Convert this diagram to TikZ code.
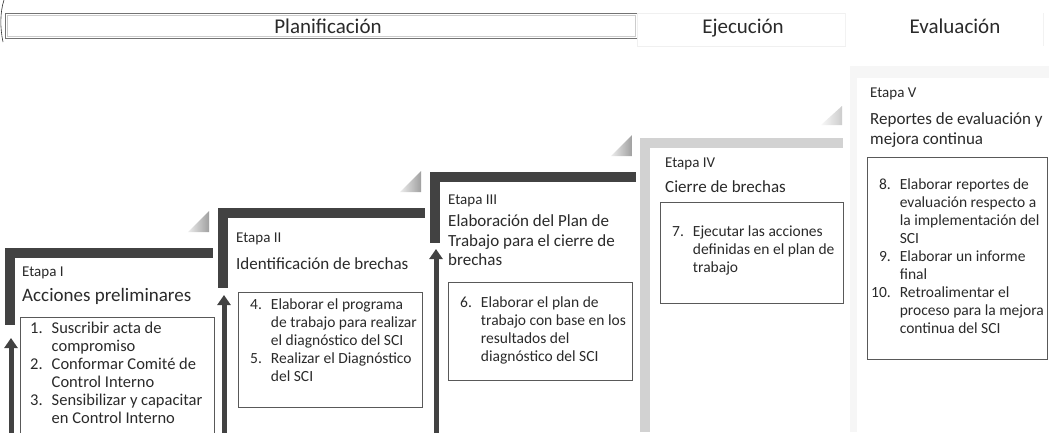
\documentclass[tikz,border=0pt]{standalone}
\usepackage{fontspec}
\setmainfont{Carlito}
\usepackage{xcolor}
\usetikzlibrary{arrows.meta}
\definecolor{barraOscura}{RGB}{66,66,66}
\definecolor{barraClara}{RGB}{210,210,210}
\definecolor{barraTenue}{RGB}{246,246,246}
\definecolor{textoGris}{RGB}{42,42,42}

\newcommand{\lineas}[1]{\begin{tabular}{@{}l@{}}#1\end{tabular}}

\tikzset{
  etapa/.style={anchor=north west, inner sep=0pt, text=textoGris,
                font=\fontsize{15}{18}\selectfont},
  titulo/.style={anchor=north west, inner sep=0pt, text=textoGris,
                 font=\fontsize{17}{19.5}\selectfont},
  lista/.style={anchor=north west, inner sep=0pt, text=textoGris,
                font=\fontsize{15.5}{18}\selectfont},
  caja/.style={draw=black!65, line width=0.9pt},
  flecha/.style={-{Triangle[width=13pt, length=10pt]}, line width=5pt, barraOscura},
  fase/.style={anchor=base, inner sep=0pt, text=textoGris, font=\fontsize{21}{24}\selectfont}
}

\begin{document}
\begin{tikzpicture}[x=1pt, y=-1pt]

\path[use as bounding box, clip] (0,0) rectangle (1049,432);
\fill[white] (0,0) rectangle (1049,432);

% ── Cabecera de fases ────────────────────────────────────────────────
\draw[black!55, line width=0.8pt] (5,13) rectangle (637,38);
\draw[black!20, line width=0.5pt] (7,15) rectangle (635,36);
\draw[black!6, line width=0.6pt] (637,13) rectangle (845,46);
\draw[black!5, line width=0.6pt] (845,13) -- (845,46) (1043,13) -- (1043,46);
\node[fase] (planif) at (328,33) {Planificación};
\node[fase] (ejec)   at (743,33) {Ejecución};
\node[fase] (evalu)  at (955,33) {Evaluación};
\draw[black!80, line width=0.6pt] (4,0) .. controls (0,12) and (0,28) .. (3,42);

% ── Escalones oscuros (Etapa I a III) ───────────────────────────────
% x: borde izquierdo, ytop: arriba de la barra, xend: fin de la barra
% ybot: fin de la barra vertical, ytip: punta de la flecha
\foreach \n/\x/\ytop/\xend/\ybot/\ytip in {
   I/5/248/213/325/338,
  II/218/208/425/288/295,
 III/430/172/636/243/249}
{
  \fill[barraOscura] (\x,\ytop) rectangle (\xend,\ytop+10);
  \fill[barraOscura] (\x,\ytop) rectangle (\x+10,\ybot);

  % triangulo sombreado sobre el extremo de la barra
  \shade[left color=gray!15, right color=gray!75]
    (\xend-25,\ytop-16) -- (\xend-4,\ytop-16) -- (\xend-4,\ytop-37) -- cycle;

  % flecha hacia arriba
  \coordinate (pie\n)   at (\x+6,440);
  \coordinate (punta\n) at (\x+6,\ytip);
  \draw[flecha] (pie\n) -- (punta\n);
}

% ── Escalon claro (Etapa IV) ─────────────────────────────────────────
\fill[barraClara] (640,138) rectangle (843,148);
\fill[barraClara] (640,138) rectangle (650,432);
\shade[left color=gray!5, right color=gray!40]
  (821,125) -- (842,125) -- (842,106) -- cycle;

% ── Escalon tenue (Etapa V) ──────────────────────────────────────────
\fill[barraTenue] (850,66) rectangle (1049,78);
\fill[barraTenue] (850,66) rectangle (857,432);

% ── Cajas de actividades ────────────────────────────────────────────
\draw[caja] (20,317)  rectangle (214,445);
\draw[caja] (238,292) rectangle (422,407);
\draw[caja] (448,282) rectangle (632,380);
\draw[caja] (660,202) rectangle (843,303);
\draw[caja] (867,157) rectangle (1047,359);

% ── Etapa I ──────────────────────────────────────────────────────────
\node[etapa]  (etapaI)  at (22,264) {\lineas{Etapa I}};
\node[titulo, font=\fontsize{19}{21}\selectfont] (tituloI) at (22,287) {\lineas{Acciones preliminares}};
\node[lista, font=\fontsize{16.5}{18}\selectfont] (listaI) at (30,321) {\begin{tabular}{@{}r@{\hspace{9pt}}l@{}}
  1. & Suscribir acta de\\ & compromiso\\
  2. & Conformar Comité de\\ & Control Interno\\
  3. & Sensibilizar y capacitar\\ & en Control Interno\end{tabular}};

% ── Etapa II ─────────────────────────────────────────────────────────
\node[etapa]  (etapaII)  at (236,230) {\lineas{Etapa II}};
\node[titulo] (tituloII) at (236,256) {\lineas{Identificación de brechas}};
\node[lista]  (listaII)  at (250,297) {\begin{tabular}{@{}r@{\hspace{9pt}}l@{}}
  4. & Elaborar el programa\\ & de trabajo para realizar\\ & el diagnóstico del SCI\\
  5. & Realizar el Diagnóstico\\ & del SCI\end{tabular}};

% ── Etapa III ────────────────────────────────────────────────────────
\node[etapa]  (etapaIII)  at (448,192) {\lineas{Etapa III}};
\node[titulo] (tituloIII) at (448,213) {\lineas{Elaboración del Plan de\\Trabajo para el cierre de\\brechas}};
\node[lista]  (listaIII)  at (460,295) {\begin{tabular}{@{}r@{\hspace{9pt}}l@{}}
  6. & Elaborar el plan de\\ & trabajo con base en los\\ & resultados del\\ & diagnóstico del SCI\end{tabular}};

% ── Etapa IV ─────────────────────────────────────────────────────────
\node[etapa]  (etapaIV)  at (665,155) {\lineas{Etapa IV}};
\node[titulo] (tituloIV) at (665,179) {\lineas{Cierre de brechas}};
\node[lista]  (listaIV)  at (672,224) {\begin{tabular}{@{}r@{\hspace{9pt}}l@{}}
  7. & Ejecutar las acciones\\ & definidas en el plan de\\ & trabajo\end{tabular}};

% ── Etapa V ──────────────────────────────────────────────────────────
\node[etapa]  (etapaV)  at (870,85)  {\lineas{Etapa V}};
\node[titulo] (tituloV) at (870,111) {\lineas{Reportes de evaluación y\\mejora continua}};
\node[lista]  (listaV)  at (871,177) {\begin{tabular}{@{}r@{\hspace{9pt}}l@{}}
  8. & Elaborar reportes de\\ & evaluación respecto a\\ & la implementación del\\ & SCI\\
  9. & Elaborar un informe\\ & final\\
  10. & Retroalimentar el\\ & proceso para la mejora\\ & continua del SCI\end{tabular}};

\end{tikzpicture}
\end{document}
